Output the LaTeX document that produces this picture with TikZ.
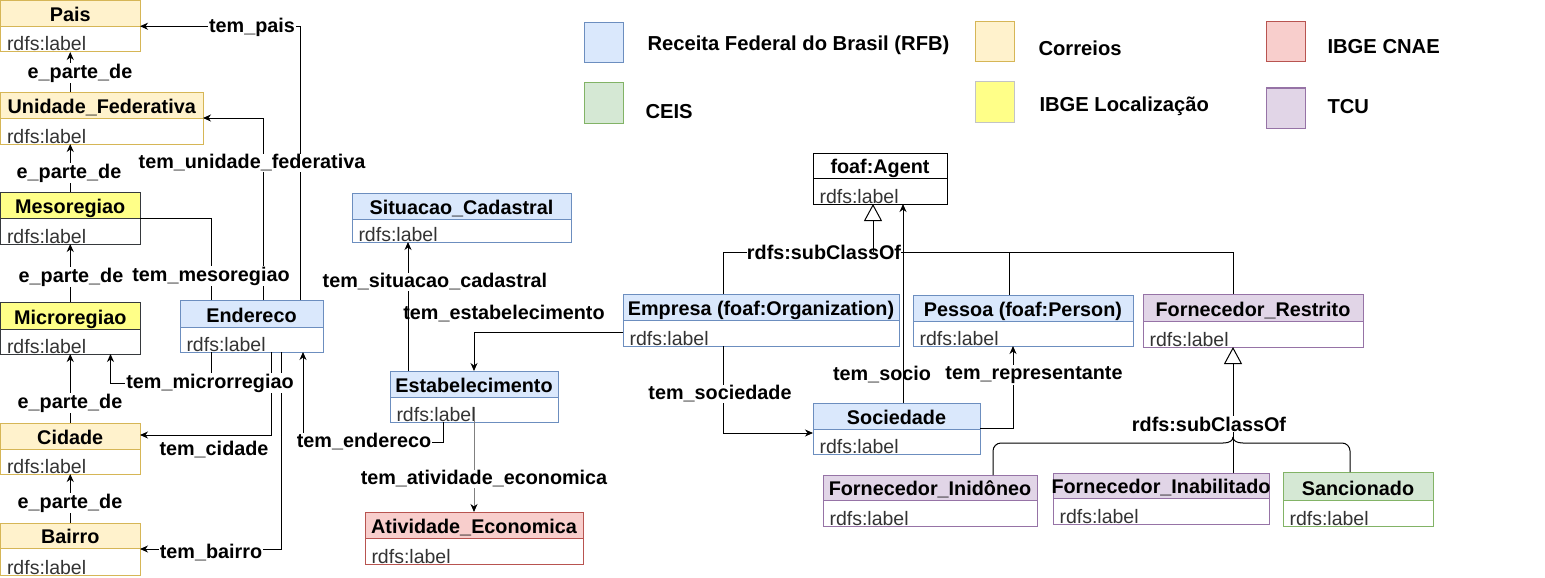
\documentclass[tikz,border=0pt]{standalone}
\usepackage{fontspec}
\setmainfont{Liberation Sans}
\usetikzlibrary{arrows.meta,calc}
\definecolor{blueF}{HTML}{DAE8FC}\definecolor{blueD}{HTML}{6C8EBF}
\definecolor{orF}{HTML}{FFF2CC}\definecolor{orD}{HTML}{D6B656}
\definecolor{yeF}{HTML}{FFFF88}\definecolor{yeD}{HTML}{36393D}
\definecolor{reF}{HTML}{F8CECC}\definecolor{reD}{HTML}{B85450}
\definecolor{grF}{HTML}{D5E8D4}\definecolor{grD}{HTML}{82B366}
\definecolor{puF}{HTML}{E1D5E7}\definecolor{puD}{HTML}{9673A6}
\definecolor{whF}{HTML}{FFFFFF}\definecolor{whD}{HTML}{000000}
\definecolor{attrgray}{HTML}{333333}
\definecolor{edgegray}{HTML}{808080}
\tikzset{
  titletext/.style={font=\fontsize{19.8}{22}\selectfont\bfseries, inner sep=0pt},
  attrtext/.style={font=\fontsize{19.5}{22}\selectfont, text=attrgray, inner sep=0pt},
  elabel/.style={font=\fontsize{19.8}{22}\selectfont\bfseries, fill=white, inner sep=1pt},
  elabelclear/.style={font=\fontsize{19.8}{22}\selectfont\bfseries, inner sep=1pt},
  legtext/.style={font=\fontsize{20.2}{22}\selectfont\bfseries, inner sep=0pt, anchor=west},
  arr/.style={-{Stealth[length=8pt,width=7pt,inset=2.5pt]}},
  arrk/.style={-{Stealth[length=8pt,width=7pt,inset=2.5pt,color=black]}},
  tri/.style={-{Triangle[open,fill=white,length=17pt,width=18pt]}},
}
\newcommand\ClassBox[8]{%
  \fill[#8F] (#2,#3) rectangle (#4,#5);
  \node[draw=#8D, line width=1pt, inner sep=0pt, outer sep=0pt, anchor=north west,
        minimum width={(#4-#2)*1pt}, minimum height={(#6-#3)*1pt}] (#1) at (#2,#3) {};
  \draw[#8D, line width=1pt] (#2,#5) -- (#4,#5);
  \node[titletext, anchor=base] (#1-t) at ({(#2+#4)/2},{#5-5}) {#7};
  \node[attrtext, anchor=base west] (#1-a) at ({#2+6},{#6-1}) {rdfs:label};
}
\begin{document}
\begin{tikzpicture}[x=1pt,y=-1pt,line width=1pt]
\useasboundingbox (0,0) rectangle (1545,578);
% legend
\draw[blueD, fill=blueF] (584,23) rectangle (623,63);
\node[legtext] (lg1) at (647,45) {Receita Federal do Brasil (RFB)};
\draw[grD, fill=grF] (584,83) rectangle (623,123);
\node[legtext] (lg2) at (645,112) {CEIS};
\draw[orD, fill=orF] (975,22) rectangle (1014,62);
\node[legtext] (lg3) at (1038,48) {Correios};
\draw[yeD!30, fill=yeF] (975,82) rectangle (1014,122);
\node[legtext] (lg4) at (1039,106) {IBGE Localização};
\draw[reD, fill=reF] (1266,22) rectangle (1305,62);
\node[legtext] (lg5) at (1327,47) {IBGE CNAE};
\draw[puD, fill=puF] (1266,88) rectangle (1305,128);
\node[legtext] (lg6) at (1327,107) {TCU};
% classes
\ClassBox{pais}{0.5}{0.5}{140}{27}{52}{Pais}{or}
\ClassBox{uf}{0.5}{92}{203}{118}{144}{Unidade\_Federativa}{or}
\ClassBox{meso}{0.5}{192}{140}{218}{244}{Mesoregiao}{ye}
\ClassBox{micro}{0.5}{302}{140}{329}{354}{Microregiao}{ye}
\ClassBox{cidade}{0.5}{423}{140}{449}{474}{Cidade}{or}
\ClassBox{bairro}{0.5}{523}{140}{548}{575}{Bairro}{or}
\ClassBox{ender}{180}{300}{323}{327}{352}{Endereco}{blue}
\ClassBox{situ}{352}{193}{571}{219}{242}{Situacao\_Cadastral}{blue}
\ClassBox{estab}{390}{371}{558}{397}{422}{Estabelecimento}{blue}
\ClassBox{ativ}{365}{512}{583}{538}{564}{Atividade\_Economica}{re}
\ClassBox{agent}{813}{153}{947}{178}{204}{foaf:Agent}{wh}
\ClassBox{emp}{623}{294}{899}{320}{346}{Empresa (foaf:Organization)}{blue}
\ClassBox{pessoa}{913}{295}{1133}{321}{346}{Pessoa (foaf:Person)}{blue}
\ClassBox{fr}{1143}{294}{1363}{321}{347}{Fornecedor\_Restrito}{pu}
\ClassBox{soc}{813}{403}{980}{429}{454}{Sociedade}{blue}
\ClassBox{inid}{823}{475}{1037}{500}{526}{Fornecedor\_Inidôneo}{pu}
\ClassBox{inab}{1053}{473}{1269}{498}{524}{Fornecedor\_Inabilitado}{pu}
\ClassBox{sanc}{1283}{472}{1433}{500}{526}{Sancionado}{gr}
% e_parte_de
\draw[arr] (pais.south |- uf.north) -- (pais.south);
\node[elabel] (l1) at (80,73) {e\_parte\_de};
\draw[arr] (meso.north) -- (meso.north |- uf.south);
\node[elabel] (l2) at (69,173) {e\_parte\_de};
\draw[arr] (micro.north) -- (meso.south);
\node[elabel] (l3) at (71,277) {e\_parte\_de};
\draw[arr] (cidade.north) -- (micro.south);
\node[elabel] (l4) at (70,403) {e\_parte\_de};
\draw[arr] (bairro.north) -- (cidade.south);
\node[elabel] (l5) at (70,503) {e\_parte\_de};
% Endereco links
\draw[arr] ([xshift=120pt]ender.north west) |- (pais.east);
\node[elabel] (l6) at (252,27) {tem\_pais};
\draw[arr] ([xshift=83pt]ender.north west) |- (uf.east);
\draw ([xshift=31pt]ender.north west) |- (meso.east);
\node[elabel] (l7) at (252,163) {tem\_unidade\_federativa};
\node[elabel] (l8) at (211,276) {tem\_mesoregiao};
\draw[arr] ([xshift=31pt]ender.south west) -- ++(0,31) -| ([xshift=110pt]micro.south west);
\draw[arr] ([xshift=91pt]ender.south west) |- ([yshift=13.5pt]cidade.east);
\draw[arr] ([xshift=101pt]ender.south west) |- (bairro.east);
\node[elabel] (l9) at (210,383) {tem\_microrregiao};
\node[elabelclear] (l10) at (214,450) {tem\_cidade};
\node[elabel] (l11) at (211,553) {tem\_bairro};
\draw[arr] ([xshift=53pt]estab.south west) -- ++(0,20) -| ([xshift=123pt]ender.south west);
\node[elabel] (l12) at (364,442) {tem\_endereco};
% Estabelecimento links
\draw[arr] ([xshift=18pt]estab.north west) -- ([xshift=56pt]situ.south west);
\node[elabel] (l13) at (435,282) {tem\_situacao\_cadastral};
\node[elabelclear] (l14) at (504,314) {tem\_estabelecimento};
\draw[arr] ([yshift=-12pt]emp.west) -| ([xshift=84pt]estab.north west);
\draw[arrk, edgegray] ([xshift=84pt,yshift=15pt]estab.south west) -- (ativ.north);
\node[elabel] (l15) at (484,479) {tem\_atividade\_economica};
% Empresa / Sociedade
\draw[arr] ([xshift=100pt]emp.south west) |- ([yshift=-4.5pt]soc.west);
\node[elabel] (l16) at (720,394) {tem\_sociedade};
\draw[arr] (soc.east) -| ([xshift=100pt]pessoa.south west);
\node[elabel] (l17) at (1034,375) {tem\_representante};
\node[elabelclear] (l18) at (882,375) {tem\_socio};
% upper subClassOf tree
\coordinate (sc1) at (873,252);
\draw ([xshift=100pt]emp.north west) |- (sc1);
\draw (sc1) -| ([xshift=90pt]fr.north west);
\draw ([xshift=96pt]pessoa.north west) |- (sc1);
\node[elabel, inner sep=0pt] (l19) at (824,252) {rdfs:subClassOf};
\draw[tri] (sc1) -- ([xshift=60pt]agent.south west);
\draw[arr] ([xshift=90pt]soc.north west) -- ([xshift=90pt]agent.south west);
% lower subClassOf tree
\coordinate (bt) at (1233,437);
\coordinate (bl) at (1223,443);
\coordinate (br) at (1243,443);
\draw[tri] ([xshift=180pt]inab.north west) -- ([xshift=90pt]fr.south west);
\draw[rounded corners=8pt] ([xshift=170pt]inid.north west) |- (bl);
\draw (bl) .. controls (1229,443) and (1233,441) .. (bt);
\draw (br) .. controls (1237,443) and (1233,441) .. (bt);
\draw[rounded corners=8pt] (br) -| ([xshift=67pt]sanc.north west);
\node[elabel] (l20) at (1209,424) {rdfs:subClassOf};
\end{tikzpicture}
\end{document}
